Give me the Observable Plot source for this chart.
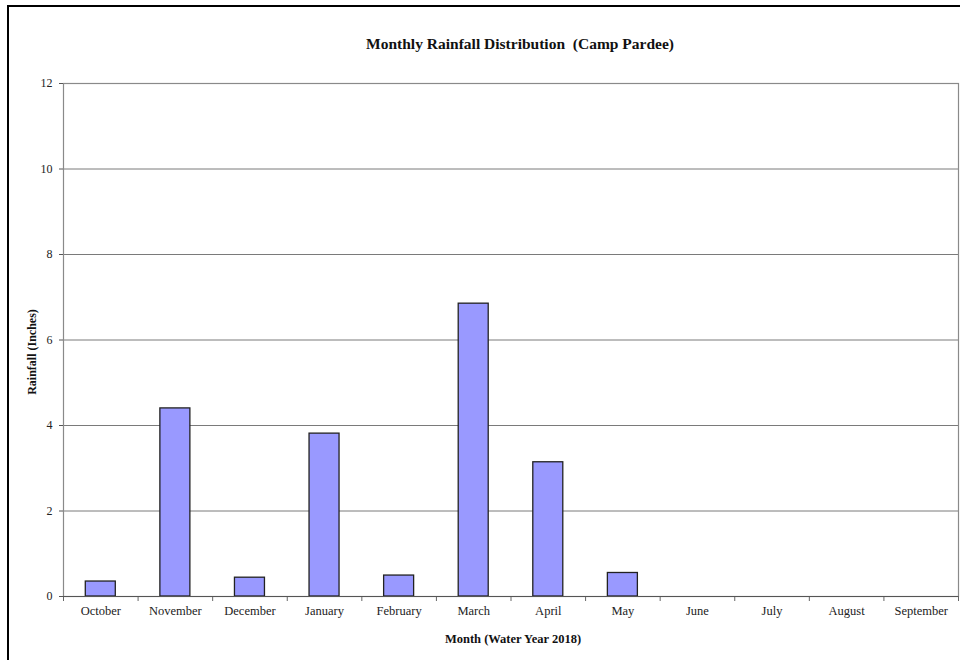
<!DOCTYPE html>
<html>
<head>
<meta charset="utf-8">
<script src="https://cdn.jsdelivr.net/npm/d3@7"></script>
<script src="https://cdn.jsdelivr.net/npm/@observablehq/plot@0.6"></script>
<style>
  html, body { margin: 0; padding: 0; background: #fff; overflow: hidden; }
  #page { position: relative; width: 960px; height: 660px; overflow: hidden; }
  #border { position: absolute; left: 7px; top: 5px; width: 1000px; height: 1000px;
            border: 2.5px solid #000; box-sizing: border-box; }
  #title { position: absolute; left: 0; top: 35px; width: 1040px; text-align: center;
           font: bold 15.5px "Liberation Serif", "Times New Roman", serif; color: #111; }
  #chart { position: absolute; left: 0; top: 0; }
</style>
</head>
<body>
<div id="page">
  <div id="border"></div>
  <div id="chart"></div>
  <div id="title">Monthly Rainfall Distribution&nbsp; (Camp Pardee)</div>
</div>
<script>
// Water year 2018 months and monthly rainfall totals (inches)
const months = ["October", "November", "December", "January", "February", "March",
                "April", "May", "June", "July", "August", "September"];
const rainfall = [0.35, 4.40, 0.44, 3.81, 0.49, 6.85, 3.14, 0.55, 0, 0, 0, 0];
const yTicks = [0, 2, 4, 6, 8, 10, 12];
const gridValues = [2, 4, 6, 8, 10];

const data = months.map((m, i) => ({month: m, value: rainfall[i]}));

const W = 960, H = 660;
const mLeft = 63, mRight = 2, mTop = 83, mBottom = 64;
const step = (W - mLeft - mRight) / months.length;
const barInset = (step - 30) / 2;
const serif = '"Liberation Serif", "Times New Roman", serif';

const chart = Plot.plot({
  width: W,
  height: H,
  marginLeft: mLeft,
  marginRight: mRight,
  marginTop: mTop,
  marginBottom: mBottom,
  style: {fontFamily: serif, fontSize: "12.5px", color: "#222", background: "transparent"},
  x: {type: "band", domain: months, padding: 0, round: false, label: null},
  y: {domain: [0, 12], label: null},
  marks: [
    Plot.ruleY(gridValues, {stroke: "#7a7a7a", strokeWidth: 1}),
    Plot.frame({stroke: "#8a8a8a", strokeWidth: 1.2}),
    Plot.barY(data, {x: "month", y: "value", fill: "#9999ff", stroke: "#222",
                     strokeWidth: 1.3, insetLeft: barInset, insetRight: barInset}),
    // category boundary ticks below the baseline
    Plot.ruleX(months, {x: d => d, dx: -step / 2, y1: 0, y2: 0, insetBottom: -5, stroke: "#666"}),
    Plot.ruleX([months[months.length - 1]], {x: d => d, dx: step / 2, y1: 0, y2: 0, insetBottom: -5, stroke: "#666"}),
    Plot.ruleY([0], {stroke: "#555", strokeWidth: 1.2}),
    Plot.ruleX([0], {frameAnchor: "left", stroke: "#555", strokeWidth: 1.2}),
    Plot.axisY({ticks: yTicks, tickSize: 4, tickPadding: 7, stroke: "#555", label: null, fontSize: 12}),
    Plot.axisX({tickSize: 0, tickPadding: 10, label: null}),
    Plot.text(["Rainfall (Inches)"], {frameAnchor: "left", textAnchor: "middle", lineAnchor: "middle",
                                      dx: -31, dy: 12, rotate: -90,
                                      fontWeight: "bold", fontSize: 12, fill: "#111"}),
    Plot.text(["Month (Water Year 2018)"], {frameAnchor: "bottom", textAnchor: "middle", lineAnchor: "middle",
                                            dy: 42, dx: 2,
                                            fontWeight: "bold", fontSize: 12.5, fill: "#111"})
  ]
});
document.getElementById("chart").appendChild(chart);
</script>
</body>
</html>
